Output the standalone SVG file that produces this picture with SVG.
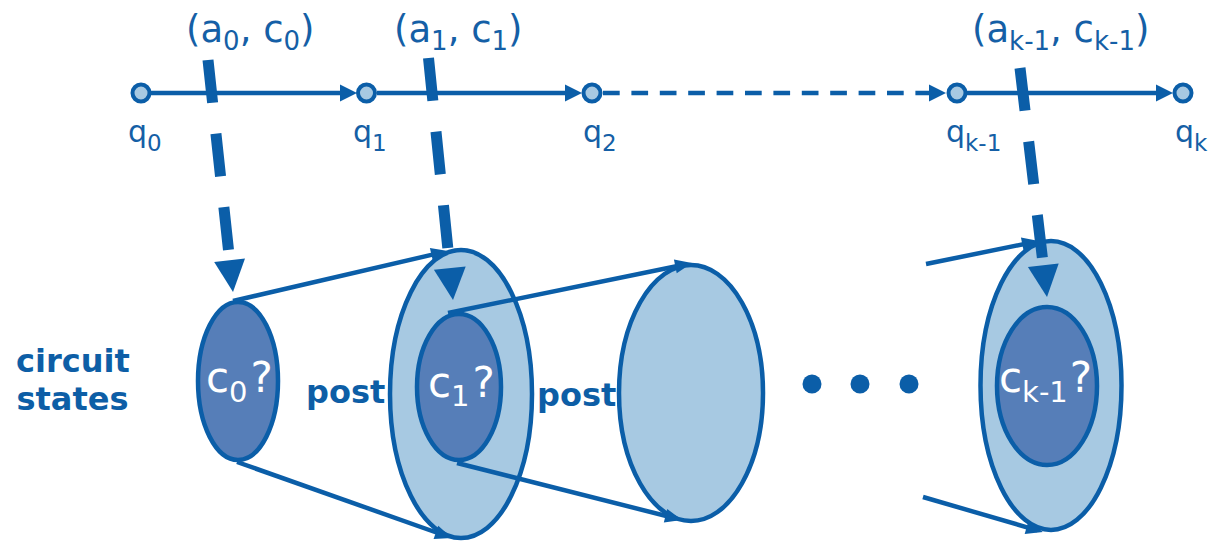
<svg xmlns="http://www.w3.org/2000/svg" width="1210" height="542" viewBox="0 0 1210 542">
<style>
.lbl{font-family:"DejaVu Sans","Verdana",sans-serif;fill:#155fa6}
.q{font-size:30px}
.ac{font-size:37px}
.bold{font-family:"DejaVu Sans",sans-serif;font-weight:bold;font-size:32px;fill:#0d5ea6}
.in{font-family:"DejaVu Sans",sans-serif;font-size:42px;fill:#ffffff}
.node{fill:#a7c9e2;stroke:#0b5ea8;stroke-width:4}
.light{fill:#a7c9e2;stroke:#0b5ea8;stroke-width:4.5}
.dark{fill:#567eb8;stroke:#0b5ea8;stroke-width:4.5}
.tl{stroke:#0b5ea8;stroke-width:4.5;fill:none}
.cn{stroke:#0b5ea8;stroke-width:4.5;fill:none;marker-end:url(#ah)}
.big{stroke:#0b5ea8;stroke-width:11;fill:none;stroke-dasharray:43 31}
.bh{fill:#0b5ea8}
</style>
<defs>
<marker id="hh" markerUnits="userSpaceOnUse" markerWidth="18" markerHeight="17" refX="4" refY="8.5" orient="auto" overflow="visible"><path d="M0,0 L17,8.5 L0,17 z" fill="#0b5ea8"/></marker>
<marker id="ah" markerUnits="userSpaceOnUse" markerWidth="18" markerHeight="14" refX="11" refY="7" orient="auto" overflow="visible"><path d="M0,0 L17,7 L0,14 z" fill="#0b5ea8"/></marker>
</defs>

<g id="timeline">
<line class="tl" x1="150" y1="93" x2="344" y2="93" marker-end="url(#hh)"/>
<line class="tl" x1="377" y1="93" x2="569" y2="93" marker-end="url(#hh)"/>
<line class="tl" x1="603" y1="93" x2="933" y2="93" stroke-dasharray="16.7 11.7" marker-end="url(#hh)"/>
<line class="tl" x1="967" y1="93" x2="1160" y2="93" marker-end="url(#hh)"/>
</g>

<g id="q0"><circle class="node" cx="141" cy="93" r="8.5"/><text class="lbl q" x="128" y="142">q<tspan font-size="23" dy="9">0</tspan></text></g>
<g id="q1"><circle class="node" cx="366.5" cy="93" r="8.5"/><text class="lbl q" x="353" y="142">q<tspan font-size="23" dy="9">1</tspan></text></g>
<g id="q2"><circle class="node" cx="592" cy="93" r="8.5"/><text class="lbl q" x="583" y="142">q<tspan font-size="23" dy="9">2</tspan></text></g>
<g id="qk-1"><circle class="node" cx="957" cy="93" r="8.5"/><text class="lbl q" x="946" y="142">q<tspan font-size="23" dy="9">k-1</tspan></text></g>
<g id="qk"><circle class="node" cx="1183" cy="93" r="8.5"/><text class="lbl q" x="1175" y="142">q<tspan font-size="23" dy="9">k</tspan></text></g>

<g id="label-circuit-states">
<text class="bold" x="16" y="372">circuit</text>
<text class="bold" x="16.5" y="410">states</text>
</g>

<g id="c0"><ellipse class="dark" cx="238" cy="381" rx="40" ry="79"/>
<text class="in" x="206" y="392">c<tspan font-size="29" dy="10">0</tspan><tspan dx="3" dy="-10">?</tspan></text></g>

<g id="c1"><ellipse class="light" cx="461" cy="394" rx="71" ry="144"/><ellipse class="dark" cx="459" cy="387" rx="42" ry="73"/>
<text class="in" x="428" y="397">c<tspan font-size="29" dy="9">1</tspan><tspan dx="3" dy="-9">?</tspan></text></g>

<g id="s2"><ellipse class="light" cx="691" cy="393" rx="72" ry="128"/></g>

<g id="dots"><circle cx="812" cy="384" r="9.5" fill="#0b5ea8"/><circle cx="860" cy="384" r="9.5" fill="#0b5ea8"/><circle cx="909" cy="384" r="9.5" fill="#0b5ea8"/></g>

<g id="ck-1"><ellipse class="light" cx="1051" cy="385.5" rx="70.5" ry="144.5"/><ellipse class="dark" cx="1047" cy="386" rx="50" ry="79"/>
<text class="in" x="999" y="392">c<tspan font-size="29" dy="10">k-1</tspan><tspan dx="2" dy="-10">?</tspan></text></g>

<g id="post-labels">
<text class="bold" x="306" y="403">post</text>
<text class="bold" x="537" y="406">post</text>
</g>

<g id="connectors">
<line class="cn" x1="233" y1="301" x2="442.2" y2="252.4"/>
<line class="cn" x1="237" y1="462" x2="446.3" y2="536"/>
<line class="cn" x1="448" y1="313" x2="686.1" y2="264.2"/>
<line class="cn" x1="457" y1="463" x2="676.2" y2="518.5"/>
<line class="cn" x1="926" y1="264" x2="1033.1" y2="242.2"/>
<line class="cn" x1="923" y1="497" x2="1037.2" y2="530.3"/>

<line class="big" x1="208" y1="60" x2="228.7" y2="252"/>
<polygon class="bh" points="214.2,261.9 245,258.5 233,292"/>
<line class="big" x1="428.5" y1="58" x2="448" y2="250" stroke-dasharray="42 33"/>
<polygon class="bh" points="433.9,269.8 465.7,266.6 453,300"/>
<line class="big" x1="1020" y1="68" x2="1042.4" y2="258"/>
<polygon class="bh" points="1027.9,267 1058.7,263.4 1047,297"/>

<text class="lbl ac" x="186" y="42">(a<tspan font-size="26" dy="8">0</tspan><tspan dy="-8">, c</tspan><tspan font-size="26" dy="8">0</tspan><tspan dy="-8">)</tspan></text>
<text class="lbl ac" x="394" y="42">(a<tspan font-size="26" dy="8">1</tspan><tspan dy="-8">, c</tspan><tspan font-size="26" dy="8">1</tspan><tspan dy="-8">)</tspan></text>
<text class="lbl ac" x="972" y="42">(a<tspan font-size="26" dy="8">k-1</tspan><tspan dy="-8">, c</tspan><tspan font-size="26" dy="8">k-1</tspan><tspan dy="-8">)</tspan></text>
</g>
</svg>
